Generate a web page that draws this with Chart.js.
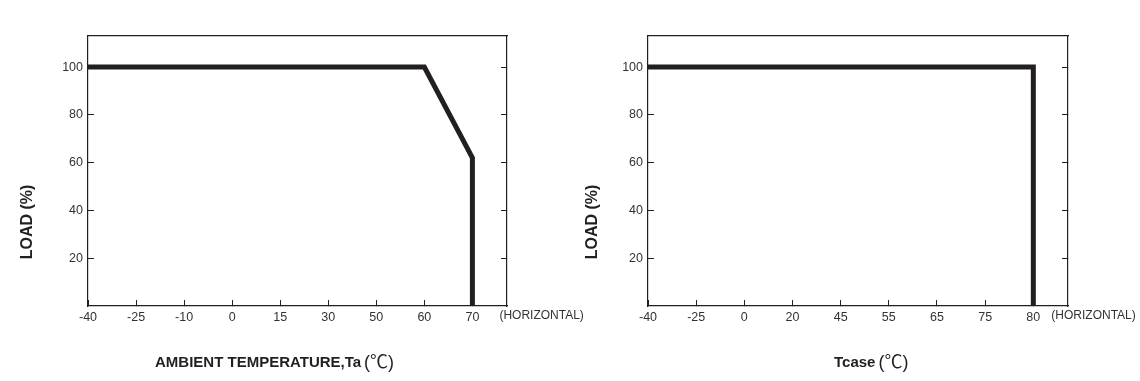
<!DOCTYPE html>
<html lang="en">
<head>
    <meta charset="UTF-8">
    <title>Derating curves</title>
    <script src="https://cdn.jsdelivr.net/npm/chart.js"></script>
    <style>
        body { margin: 0; background: #fff; }
        .wrap { position: relative; width: 1140px; height: 381px; }
        #leftChart { position: absolute; left: 0; top: 0; }
        #rightChart { position: absolute; left: 575px; top: 0; }
    </style>
</head>
<body>
<div class="wrap">
    <canvas id="leftChart" width="600" height="381"></canvas>
    <canvas id="rightChart" width="565" height="381"></canvas>
</div>
<script>
// tick labels of the x axes (evenly spaced on the drawing)
var leftTicks = ['-40', '-25', '-10', '0', '15', '30', '50', '60', '70'];
var rightTicks = ['-40', '-25', '0', '20', '45', '55', '65', '75', '80'];
var loadTicks = [20, 40, 60, 80, 100];

// curve points: temperature (one of the tick labels) and load in %
var leftTemps = ['-40', '60', '70', '70'];
var leftLoads = [100, 100, 62, 0];
var rightTemps = ['-40', '80', '80'];
var rightLoads = [100, 100, 0];

var INK = '#231f20';
var FONT = '"Liberation Sans", Arial, sans-serif';

// extra text: axis titles and the (HORIZONTAL) note
var textPlugin = {
    id: 'texts',
    afterDraw: function (chart) {
        var o = chart.options.plugins.texts;
        var ctx = chart.ctx;
        var xs = chart.scales.x;
        ctx.save();

        // (HORIZONTAL)
        ctx.font = '12px ' + FONT;
        ctx.textAlign = 'left';
        ctx.textBaseline = 'middle';
        ctx.fillStyle = '#333';
        ctx.fillText('(HORIZONTAL)', xs.getPixelForValue(8) + o.horizOffset, 316);

        // y title
        ctx.fillStyle = INK;
        ctx.save();
        ctx.translate(o.yTitleX, 222);
        ctx.rotate(-Math.PI / 2);
        ctx.textAlign = 'center';
        ctx.font = 'bold 16px ' + FONT;
        ctx.fillText('LOAD (%)', 0, 0);
        ctx.restore();

        // x title: bold part + thin (℃)
        ctx.textAlign = 'left';
        ctx.textBaseline = 'alphabetic';
        ctx.font = 'bold 15px ' + FONT;
        ctx.fillText(o.xTitle, o.xTitleX, 367);
        var w = ctx.measureText(o.xTitle).width;
        ctx.font = '18px ' + FONT + ', "Noto Sans CJK SC"';
        ctx.fillText('(\u2103)', o.xTitleX + w + 3, 368);
        ctx.restore();
    }
};

function makeChart(id, ticks, temps, loads, box, texts) {
    var points = temps.map(function (t, i) {
        return { x: ticks.indexOf(t), y: loads[i] };
    });
    var xMax = 8.72;
    return new Chart(document.getElementById(id), {
        type: 'line',
        data: {
            datasets: [{
                data: points,
                borderColor: INK,
                borderWidth: 5,
                borderJoinStyle: 'miter',
                borderCapStyle: 'butt',
                pointRadius: 0,
                tension: 0,
                fill: false
            }]
        },
        options: {
            responsive: false,
            animation: false,
            layout: { padding: 0 },
            plugins: {
                legend: { display: false },
                tooltip: { enabled: false },
                texts: texts
            },
            scales: {
                x: {
                    type: 'linear',
                    position: 'bottom',
                    min: 0,
                    max: xMax,
                    afterBuildTicks: function (s) {
                        s.ticks = ticks.map(function (l, i) { return { value: i }; });
                    },
                    afterFit: function (s) { s.height = box.bottom; },
                    ticks: {
                        autoSkip: false,
                        maxRotation: 0,
                        padding: 10,
                        color: '#333',
                        font: { family: FONT, size: 12.5 },
                        callback: function (v) { return ticks[v]; }
                    },
                    grid: { drawOnChartArea: false, tickLength: -6, color: INK, lineWidth: 1 },
                    border: { color: INK, width: 1.2 }
                },
                x2: {
                    type: 'linear',
                    position: 'top',
                    min: 0,
                    max: xMax,
                    afterFit: function (s) { s.height = box.top; },
                    ticks: { display: false },
                    grid: { display: false },
                    border: { color: INK, width: 1.2 }
                },
                y: {
                    type: 'linear',
                    position: 'left',
                    min: 0,
                    max: 113,
                    afterBuildTicks: function (s) {
                        s.ticks = loadTicks.map(function (v) { return { value: v }; });
                    },
                    afterFit: function (s) { s.width = box.left; },
                    ticks: {
                        padding: 11,
                        color: '#333',
                        font: { family: FONT, size: 12.5 }
                    },
                    grid: { drawOnChartArea: false, tickLength: -6, color: INK, lineWidth: 1 },
                    border: { color: INK, width: 1.2 }
                },
                y2: {
                    type: 'linear',
                    position: 'right',
                    min: 0,
                    max: 113,
                    afterBuildTicks: function (s) {
                        s.ticks = loadTicks.map(function (v) { return { value: v }; });
                    },
                    afterFit: function (s) { s.width = box.right; },
                    ticks: { callback: function () { return ''; } },
                    grid: { drawOnChartArea: false, tickLength: -6, color: INK, lineWidth: 1 },
                    border: { color: INK, width: 1.2 }
                }
            }
        },
        plugins: [textPlugin]
    });
}

makeChart('leftChart', leftTicks, leftTemps, leftLoads,
    { left: 88, right: 93, top: 36, bottom: 75 },
    { xTitle: 'AMBIENT TEMPERATURE,Ta', xTitleX: 155, yTitleX: 28, horizOffset: 27 });

makeChart('rightChart', rightTicks, rightTemps, rightLoads,
    { left: 73, right: 72, top: 36, bottom: 75 },
    { xTitle: 'Tcase', xTitleX: 259, yTitleX: 18, horizOffset: 18 });
</script>
</body>
</html>
